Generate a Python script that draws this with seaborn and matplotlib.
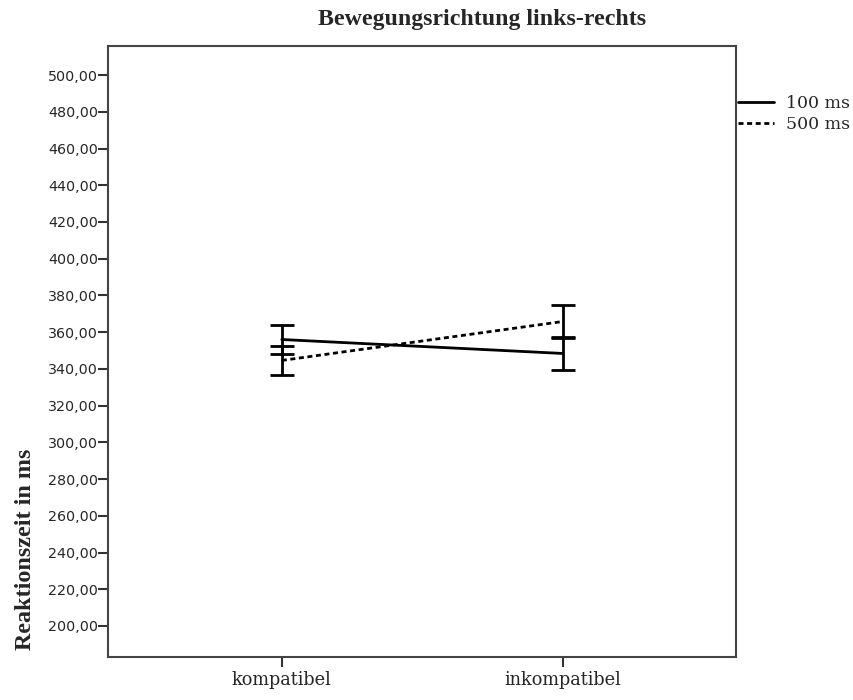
import pandas as pd
import seaborn as sns
import matplotlib.pyplot as plt
from matplotlib.ticker import FuncFormatter, MultipleLocator

# data
conditions = ["kompatibel", "inkompatibel"]
soa_labels = ["100 ms", "500 ms"]
rt_100 = [356.0, 348.4]
rt_500 = [344.6, 365.8]
err_100 = [8.0, 8.8]
err_500 = [8.0, 9.0]


def build_frame():
    rows = []
    for soa, means, errs in [(soa_labels[0], rt_100, err_100),
                             (soa_labels[1], rt_500, err_500)]:
        for i, cond in enumerate(conditions):
            rows.append({"Bedingung": cond, "pos": i, "SOA": soa,
                         "RT": means[i], "err": errs[i]})
    return pd.DataFrame(rows)


def plot_chart(df):
    sns.set_style("white")
    serif = ["DejaVu Serif"]
    fig = plt.figure(figsize=(8.54, 7.0), dpi=100)
    ax = fig.add_axes([0.127, 0.0614, 0.735, 0.8736])

    sns.lineplot(data=df, x="pos", y="RT", style="SOA", color="black",
                 dashes={soa_labels[0]: "", soa_labels[1]: (1.8, 1.3)},
                 linewidth=2, ax=ax, legend=False, sort=False)

    for soa in soa_labels:
        sub = df[df["SOA"] == soa]
        ax.errorbar(sub["pos"], sub["RT"], yerr=sub["err"], fmt="none",
                    ecolor="black", elinewidth=2, capsize=8.5, capthick=2)

    ax.set_xlim(-0.617, 1.617)
    ax.set_xticks(range(len(conditions)))
    ax.set_xticklabels(conditions, family=serif, fontsize=12.8)
    ax.yaxis.set_major_locator(MultipleLocator(20))
    ax.yaxis.set_major_formatter(FuncFormatter(lambda v, p: f"{v:.2f}".replace(".", ",")))
    ax.yaxis.set_tick_params(labelsize=10.3)
    ax.set_ylim(183.1, 516.1)

    ax.tick_params(axis="both", direction="out", length=7, width=1.5,
                   color="#333333", left=True, bottom=True)
    ax.tick_params(axis="y", pad=0.5)
    ax.tick_params(axis="x", pad=3)
    for sp in ax.spines.values():
        sp.set_color("#444444")
        sp.set_linewidth(1.5)

    ax.set_xlabel("")
    ax.set_ylabel("Reaktionszeit in ms", family=["Liberation Serif"],
                  fontweight="bold", fontsize=17.4, loc="bottom", labelpad=9)
    ax.yaxis.label.set_position((0, 0.012))

    fig.text(0.564, 0.972, "Bewegungsrichtung links-rechts",
             family=["Liberation Serif"], fontweight="bold", fontsize=17.2,
             ha="center", va="center")

    handles = [plt.Line2D([], [], color="black", lw=2),
               plt.Line2D([], [], color="black", lw=2, dashes=(1.8, 1.3))]
    ax.legend(handles, soa_labels, loc="upper left",
              bbox_to_anchor=(1.0, 0.922), frameon=False, borderaxespad=0,
              borderpad=0.1, handlelength=2.1, handletextpad=0.7,
              labelspacing=0.22, prop={"family": serif, "size": 12.5})

    fig.savefig("out.png", dpi=100)


def main():
    df = build_frame()
    plot_chart(df)


if __name__ == "__main__":
    main()
